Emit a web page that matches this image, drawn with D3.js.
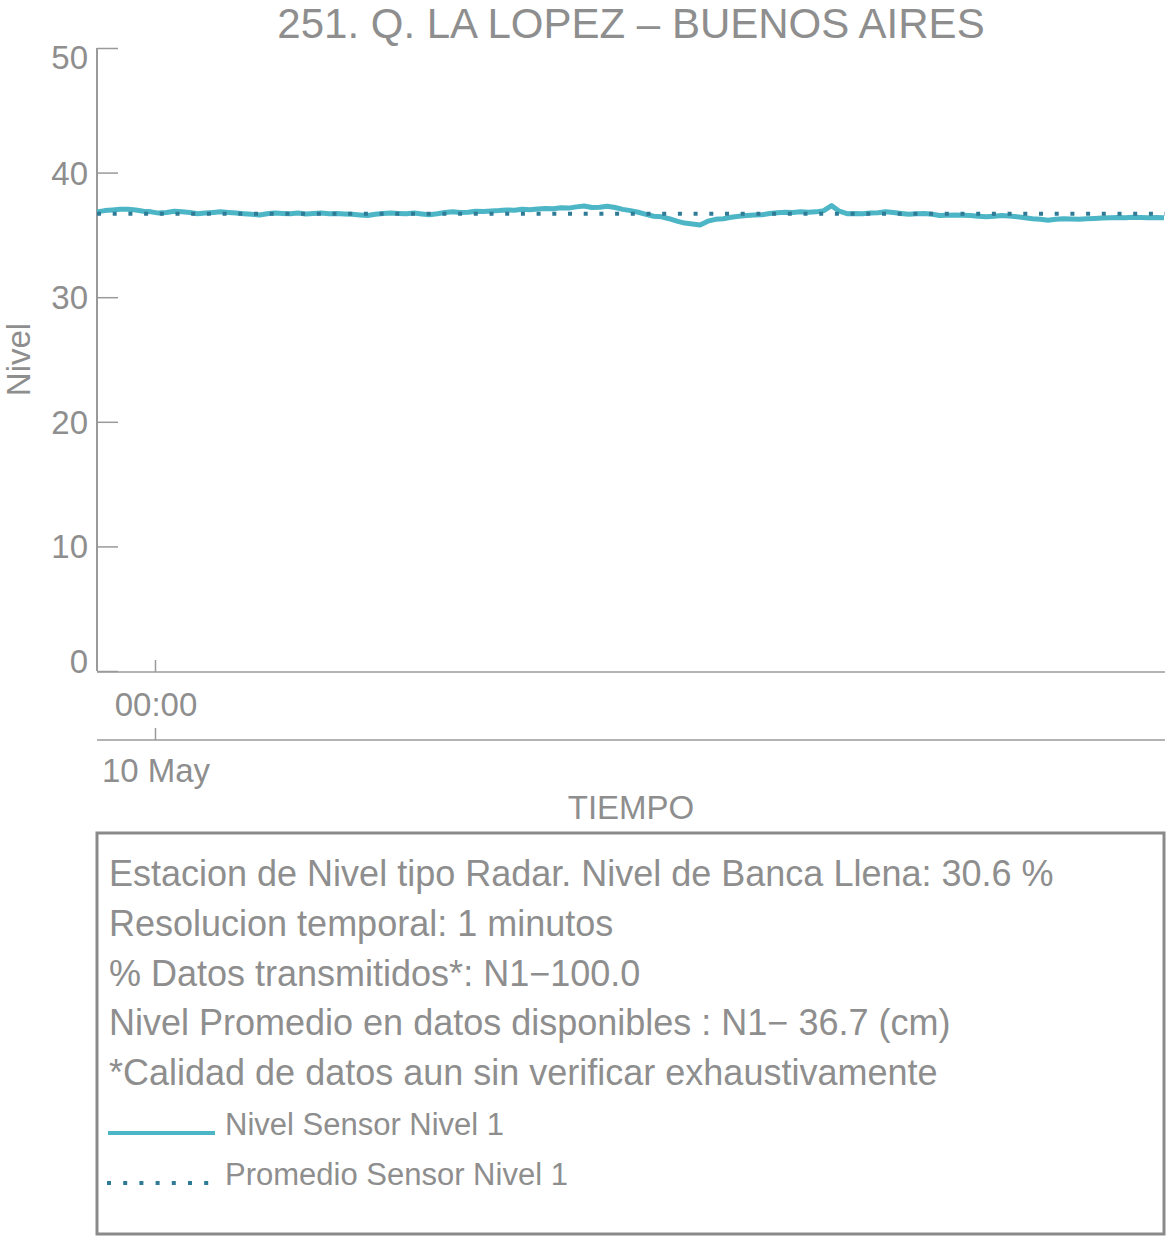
<!DOCTYPE html>
<html>
<head>
<meta charset="utf-8">
<script src="https://cdn.jsdelivr.net/npm/d3@7"></script>
<style>
  html, body { margin: 0; padding: 0; background: #fff; }
  svg { display: block; font-family: "Liberation Sans", Arial, Helvetica, sans-serif; }
</style>
</head>
<body>
<svg id="chart" width="1168" height="1236"></svg>
<script>
// ---- data ----
const chartTitle = "251. Q. LA LOPEZ \u2013 BUENOS AIRES";
const seriesStart = new Date(2023, 4, 9, 23, 0);   // first reading
const seriesEnd = new Date(2023, 4, 10, 17, 25);   // end of window
const stepMinutes = 8;
// Sensor level (cm), one reading every stepMinutes
const nivelSensor1 = [
  36.85, 36.95, 37.00, 37.05, 37.05, 37.00, 36.90, 36.85, 36.75, 36.80,
  36.90, 36.85, 36.80, 36.70, 36.75, 36.80, 36.85, 36.80, 36.75, 36.70,
  36.65, 36.60, 36.70, 36.75, 36.72, 36.70, 36.75, 36.68, 36.72, 36.75,
  36.70, 36.72, 36.68, 36.65, 36.60, 36.55, 36.65, 36.72, 36.75, 36.72,
  36.70, 36.75, 36.68, 36.62, 36.70, 36.80, 36.85, 36.80, 36.82, 36.90,
  36.88, 36.92, 36.95, 37.00, 36.98, 37.05, 37.02, 37.08, 37.12, 37.10,
  37.18, 37.15, 37.25, 37.32, 37.20, 37.22, 37.30, 37.20, 37.05, 36.95,
  36.82, 36.65, 36.50, 36.45, 36.30, 36.10, 35.95, 35.88, 35.80, 36.10,
  36.25, 36.30, 36.42, 36.50, 36.55, 36.60, 36.62, 36.72, 36.78, 36.82,
  36.80, 36.85, 36.82, 36.85, 36.95, 37.35, 36.90, 36.70, 36.72, 36.70,
  36.75, 36.78, 36.85, 36.80, 36.72, 36.65, 36.70, 36.72, 36.65, 36.55,
  36.58, 36.60, 36.58, 36.55, 36.50, 36.45, 36.50, 36.55, 36.52, 36.45,
  36.38, 36.30, 36.25, 36.18, 36.25, 36.30, 36.28, 36.25, 36.30, 36.32,
  36.35, 36.38, 36.40, 36.38, 36.42, 36.40, 36.38, 36.40, 36.38
];
const promedioSensor1 = 36.7;
const yTicks = [0, 10, 20, 30, 40, 50];
const xTickDates = [new Date(2023, 4, 10, 0, 0)];
const infoLines = [
  "Estacion de Nivel tipo Radar. Nivel de Banca Llena: 30.6 %",
  "Resolucion temporal: 1 minutos",
  "% Datos transmitidos*: N1\u2212100.0",
  "Nivel Promedio en datos disponibles : N1\u2212 36.7 (cm)",
  "*Calidad de datos aun sin verificar exhaustivamente"
];
const legendLabels = ["Nivel Sensor Nivel 1", "Promedio Sensor Nivel 1"];

// ---- styles ----
const grey = "#8e8e8e";
const axisGrey = "#9a9a9a";
const lineColor = "#4cb6c6";
const meanColor = "#2f7a95";

const svg = d3.select("#chart");
const plot = { left: 97, right: 1165, top: 48, bottom: 671 };

const series = nivelSensor1.map((v, i) => ({
  t: new Date(seriesStart.getTime() + i * stepMinutes * 60000),
  v
}));

const x = d3.scaleTime().domain([seriesStart, seriesEnd]).range([plot.left, plot.right]);
const y = d3.scaleLinear().domain([0, 50]).range([plot.bottom, plot.top]);

// title
svg.append("text")
  .attr("x", (plot.left + plot.right) / 2).attr("y", 38)
  .attr("text-anchor", "middle").attr("font-size", 42).attr("fill", grey)
  .text(chartTitle);

// y axis (ticks pointing into the plot)
const yAxis = svg.append("g").attr("transform", `translate(${plot.left},0)`)
  .call(d3.axisRight(y).tickValues(yTicks).tickSize(21).tickFormat(""));
yAxis.select(".domain").attr("stroke", axisGrey).attr("stroke-width", 2)
  .attr("d", `M0,${plot.top}V${plot.bottom}`);
yAxis.selectAll(".tick line").attr("stroke", axisGrey).attr("stroke-width", 1.5);

// y tick labels; end labels pulled inside the frame
svg.append("g").selectAll("text").data(yTicks).join("text")
  .attr("x", 88)
  .attr("y", d => y(d) + (d === 50 ? 21 : d === 0 ? 2 : 12))
  .attr("text-anchor", "end").attr("font-size", 33).attr("fill", grey)
  .text(d => d);

// y label
svg.append("text")
  .attr("transform", `translate(30,${(plot.top + plot.bottom) / 2}) rotate(-90)`)
  .attr("text-anchor", "middle").attr("font-size", 33).attr("fill", grey)
  .text("Nivel");

// x axis: time row
const xAxisTime = svg.append("g").attr("transform", `translate(0,${plot.bottom + 1})`)
  .call(d3.axisTop(x).tickValues(xTickDates).tickSize(12).tickFormat(""));
xAxisTime.select(".domain").attr("stroke", axisGrey).attr("stroke-width", 1.5)
  .attr("d", `M${plot.left},0H${plot.right}`);
xAxisTime.selectAll(".tick line").attr("stroke", axisGrey).attr("stroke-width", 1.5);
svg.append("g").selectAll("text").data(xTickDates).join("text")
  .attr("x", d => x(d) + 1).attr("y", 716)
  .attr("text-anchor", "middle").attr("font-size", 33).attr("fill", grey)
  .text(d3.timeFormat("%H:%M"));

// x axis: date row
const xAxisDate = svg.append("g").attr("transform", `translate(0,740)`)
  .call(d3.axisTop(x).tickValues(xTickDates).tickSize(12).tickFormat(""));
xAxisDate.select(".domain").attr("stroke", axisGrey).attr("stroke-width", 1.5)
  .attr("d", `M${plot.left},0H${plot.right}`);
xAxisDate.selectAll(".tick line").attr("stroke", axisGrey).attr("stroke-width", 1.5);
svg.append("g").selectAll("text").data(xTickDates).join("text")
  .attr("x", d => x(d) + 1).attr("y", 782)
  .attr("text-anchor", "middle").attr("font-size", 33).attr("fill", grey)
  .text(d3.timeFormat("%-d %b"));

svg.append("text")
  .attr("x", (plot.left + plot.right) / 2).attr("y", 819)
  .attr("text-anchor", "middle").attr("font-size", 33).attr("fill", grey)
  .text("TIEMPO");

// sensor series
svg.append("path").datum(series)
  .attr("fill", "none").attr("stroke", lineColor).attr("stroke-width", 5)
  .attr("stroke-linejoin", "round")
  .attr("d", d3.line().x(d => x(d.t)).y(d => y(d.v)));

// mean line
svg.append("line")
  .attr("x1", plot.left).attr("x2", plot.right)
  .attr("y1", y(promedioSensor1)).attr("y2", y(promedioSensor1))
  .attr("stroke", meanColor).attr("stroke-width", 4)
  .attr("stroke-dasharray", "4 11.7");

// info / legend box
const box = { x: 97, y: 833, w: 1067, h: 401 };
svg.append("rect")
  .attr("x", box.x).attr("y", box.y).attr("width", box.w).attr("height", box.h)
  .attr("fill", "none").attr("stroke", "#8a8a8a").attr("stroke-width", 3);

svg.append("g").selectAll("text").data(infoLines).join("text")
  .attr("x", 109).attr("y", (d, i) => 886 + i * 49.8)
  .attr("font-size", 36).attr("fill", grey)
  .text(d => d);

const legendY = [1133, 1183];
svg.append("line")
  .attr("x1", 108).attr("x2", 215).attr("y1", legendY[0]).attr("y2", legendY[0])
  .attr("stroke", lineColor).attr("stroke-width", 4);
svg.append("line")
  .attr("x1", 107).attr("x2", 212).attr("y1", legendY[1]).attr("y2", legendY[1])
  .attr("stroke", meanColor).attr("stroke-width", 4)
  .attr("stroke-dasharray", "4 12.2");
svg.append("g").selectAll("text").data(legendLabels).join("text")
  .attr("x", 225).attr("y", (d, i) => legendY[i] + 2)
  .attr("font-size", 31).attr("fill", grey)
  .text(d => d);
</script>
</body>
</html>
